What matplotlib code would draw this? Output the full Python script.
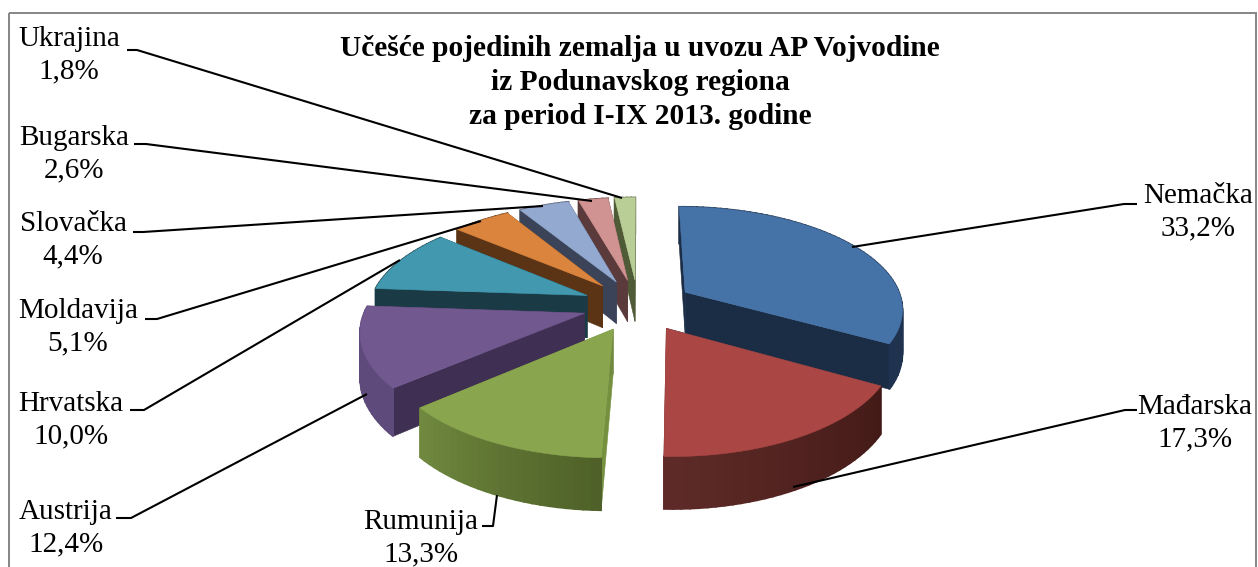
import matplotlib
matplotlib.use('Agg')
import matplotlib.pyplot as plt
from matplotlib.colors import to_rgb
from matplotlib.patches import Polygon, Rectangle
import numpy as np

plt.rcParams['font.family'] = ['Liberation Serif', 'DejaVu Serif']

countries = ['Nemačka', 'Mađarska', 'Rumunija', 'Austrija', 'Hrvatska',
             'Moldavija', 'Slovačka', 'Bugarska', 'Ukrajina']
shares = [33.2, 17.3, 13.3, 12.4, 10.0, 5.1, 4.4, 2.6, 1.8]

title_lines = ['Učešće pojedinih zemalja u uvozu AP Vojvodine',
               'iz Podunavskog regiona',
               'za period I-IX 2013. godine']

top_colors = ['#4572a7', '#aa4643', '#89a54e', '#71588f', '#4198af',
              '#db843d', '#93a9cf', '#d19392', '#b9cd96']
start_colors = ['#1b2d45', '#1b2d45', '#75913f', '#3f2f52', '#1a3b45',
                '#5a3415', '#3a4358', '#5a3a3a', '#4f5a36']
end_colors = ['#1b2d45', '#5e2a27', '#6f8a40', '#3f2f52', '#1a3b45',
              '#5a3415', '#3a4358', '#5a3a3a', '#4f5a36']
arc_from = ['#1b2d45', '#431a17', '#4f6128', '#5f4b7b', '#1a3b45',
            '#5a3415', '#3a4358', '#5a3a3a', '#4f5a36']
arc_to = ['#1f3350', '#5e2a27', '#70893f', '#5f4b7b', '#1a3b45',
          '#5a3415', '#3a4358', '#5a3a3a', '#4f5a36']

# label centre, then the leader line from the label to the slice
label_pos = [(1198, 212), (1195, 423), (421, 538), (66, 528), (71, 420),
             (78, 327), (73, 240), (74, 154), (69, 55)]
leaders = [[(1137, 204), (1124, 204), (852, 247)],
           [(1137, 410), (1125, 410), (793, 487)],
           [(482, 526), (493, 526), (497, 495)],
           [(116, 518), (131, 518), (367, 394)],
           [(130, 410), (144, 410), (400, 260)],
           [(145, 319), (157, 319), (481, 221)],
           [(133, 232), (143, 232), (543, 206)],
           [(134, 144), (146, 144), (592, 201)],
           [(127, 50), (137, 50), (622, 198)]]

cx, cy = 638, 305
rx, ry = 218, 101.6
persp = 0.148
explode = 0.255
depth = 43


def project(u, v):
    s = 1 / (1 + persp * v)
    return cx + rx * u * s, cy - ry * v * s


def drop(u, v):
    return depth / (1 + persp * v)


def face(ax, pts, color, lw=0.4):
    top = [project(u, v) for u, v in pts]
    low = [(x, y + drop(u, v)) for (x, y), (u, v) in zip(top, pts)]
    ax.add_patch(Polygon(top + low[::-1], closed=True, facecolor=color,
                         edgecolor=color, lw=lw))


fig = plt.figure(figsize=(12.58, 5.67), dpi=100)
ax = fig.add_axes([0, 0, 1, 1])
ax.set_xlim(0, 1258)
ax.set_ylim(567, 0)
ax.axis('off')

ax.add_patch(Rectangle((9, 13), 1247, 600, fill=False, edgecolor='#868686', lw=1.4))

edges = np.cumsum([0] + shares) / sum(shares) * 2 * np.pi
mids = (edges[:-1] + edges[1:]) / 2

for i in np.argsort(-np.cos(mids)):
    a0, a1, m = edges[i], edges[i + 1], mids[i]
    tip = (explode * np.sin(m), explode * np.cos(m))
    th = np.linspace(a0, a1, max(int(shares[i] * 2), 6))
    arc = [(tip[0] + np.sin(t), tip[1] + np.cos(t)) for t in th]

    face(ax, [tip, arc[0]], start_colors[i])
    face(ax, [tip, arc[-1]], end_colors[i])
    c0, c1 = np.array(to_rgb(arc_from[i])), np.array(to_rgb(arc_to[i]))
    order = sorted(range(len(arc) - 1), key=lambda j: -arc[j][1])
    for j in order:
        f = j / max(len(arc) - 2, 1)
        face(ax, arc[j:j + 2], tuple(c0 + (c1 - c0) * f), lw=1.2)
    ax.add_patch(Polygon([project(*tip)] + [project(*p) for p in arc], closed=True,
                         facecolor=top_colors[i], edgecolor=top_colors[i], lw=0.4))

for name, val, pos, line in zip(countries, shares, label_pos, leaders):
    xs, ys = zip(*line)
    ax.plot(xs, ys, color='black', lw=1.5, solid_capstyle='butt')
    txt = name + '\n' + f'{val:.1f}%'.replace('.', ',')
    ax.text(pos[0], pos[1], txt, ha='center', va='center', fontsize=21, linespacing=1.33)

for line, y in zip(title_lines, [49, 82, 116]):
    ax.text(640, y, line, ha='center', va='center', fontsize=21.2, fontweight='bold')

fig.savefig('out.png', dpi=100)
